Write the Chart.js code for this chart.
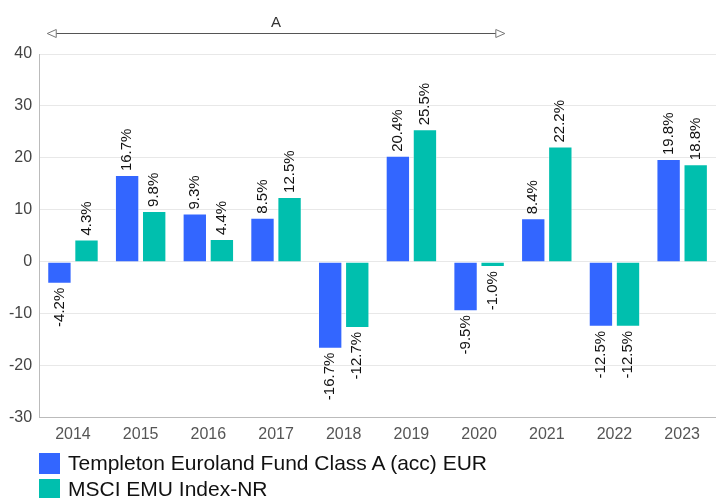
<!DOCTYPE html>
<html>
<head>
<meta charset="utf-8">
<script src="https://cdn.jsdelivr.net/npm/chart.js@4/dist/chart.umd.min.js"></script>
<style>
  html, body { margin: 0; padding: 0; background: #fff; }
  body { width: 716px; height: 498px; overflow: hidden; font-family: "Liberation Sans", Arial, sans-serif; }
  #wrap { position: relative; width: 716px; height: 451px; }
  #legend { position: absolute; left: 39px; top: 450px; }
  .item { display: flex; align-items: center; height: 26px; font-size: 21px; color: #111; }
  .box { width: 21px; height: 21px; margin-right: 8px; }
</style>
</head>
<body>
<div id="wrap"><canvas id="myChart"></canvas></div>
<div id="legend"></div>
<script>
const years = ['2014', '2015', '2016', '2017', '2018', '2019', '2020', '2021', '2022', '2023']
const fundValues = [-4.2, 16.7, 9.3, 8.5, -16.7, 20.4, -9.5, 8.4, -12.5, 19.8]
const indexValues = [4.3, 9.8, 4.4, 12.5, -12.7, 25.5, -1.0, 22.2, -12.5, 18.8]
const seriesNames = ['Templeton Euroland Fund Class A (acc) EUR', 'MSCI EMU Index-NR']
const seriesColors = ['#3366ff', '#00bfae']
const annotationLabel = 'A'
const annotationFrom = 0
const annotationTo = 6

const FONT = '"Liberation Sans", Arial, sans-serif'

// rotated value labels on each bar
const barLabels = {
  id: 'barLabels',
  afterDatasetsDraw(chart) {
    const ctx = chart.ctx
    ctx.save()
    ctx.font = '15px ' + FONT
    ctx.fillStyle = '#111'
    ctx.textBaseline = 'middle'
    chart.data.datasets.forEach((ds, i) => {
      chart.getDatasetMeta(i).data.forEach((bar, j) => {
        const v = ds.data[j]
        ctx.save()
        ctx.translate(bar.x, bar.y)
        ctx.rotate(-Math.PI / 2)
        if (v >= 0) {
          ctx.textAlign = 'left'
          ctx.fillText(v.toFixed(1) + '%', 4, 0)
        } else {
          ctx.textAlign = 'right'
          ctx.fillText(v.toFixed(1) + '%', -4, 0)
        }
        ctx.restore()
      })
    })
    ctx.restore()
  }
}

// period arrow on top
const periodArrow = {
  id: 'periodArrow',
  afterDraw(chart) {
    const ctx = chart.ctx
    const a = chart.getDatasetMeta(0).data[annotationFrom]
    const b = chart.getDatasetMeta(1).data[annotationTo]
    const x1 = a.x - a.width / 2
    const x2 = b.x + b.width / 2
    const y = 33
    ctx.save()
    ctx.strokeStyle = '#555'
    ctx.lineWidth = 1
    ctx.beginPath()
    ctx.moveTo(x1 + 8, y + 0.5)
    ctx.lineTo(x2 - 8, y + 0.5)
    ctx.stroke()
    ctx.strokeStyle = '#777'
    ctx.fillStyle = '#fff'
    ctx.beginPath()
    ctx.moveTo(x1, y + 0.5)
    ctx.lineTo(x1 + 9, y - 3.5)
    ctx.lineTo(x1 + 9, y + 4.5)
    ctx.closePath()
    ctx.fill()
    ctx.stroke()
    ctx.beginPath()
    ctx.moveTo(x2, y + 0.5)
    ctx.lineTo(x2 - 9, y - 3.5)
    ctx.lineTo(x2 - 9, y + 4.5)
    ctx.closePath()
    ctx.fill()
    ctx.stroke()
    ctx.fillStyle = '#333'
    ctx.font = '15px ' + FONT
    ctx.textAlign = 'center'
    ctx.textBaseline = 'middle'
    ctx.fillText(annotationLabel, (x1 + x2) / 2, y - 10)
    ctx.restore()
  }
}

const chartCanvas = document.getElementById('myChart')

new Chart(chartCanvas, {
  type: 'bar',
  data: {
    labels: years,
    datasets: [
      { label: seriesNames[0], data: fundValues, backgroundColor: seriesColors[0], borderColor: 'rgba(255,255,255,0.5)', borderWidth: 1 },
      { label: seriesNames[1], data: indexValues, backgroundColor: seriesColors[1], borderColor: 'rgba(255,255,255,0.5)', borderWidth: 1 }
    ]
  },
  options: {
    responsive: true,
    maintainAspectRatio: false,
    animation: false,
    layout: { padding: { top: 54, right: 0, left: 2, bottom: 0 } },
    plugins: {
      legend: { display: false },
      tooltip: { enabled: false }
    },
    scales: {
      x: {
        grid: { display: false, drawTicks: false },
        border: { display: true, color: '#bbb' },
        ticks: { color: '#555', font: { size: 16, family: FONT }, padding: 7 }
      },
      y: {
        min: -30,
        max: 40,
        ticks: { stepSize: 10, color: '#444', font: { size: 16, family: FONT }, padding: 7 },
        grid: { color: '#e8e8e8', drawTicks: false },
        border: { display: true, color: '#bbb' }
      }
    }
  },
  plugins: [barLabels, periodArrow]
})

const legendBox = document.getElementById('legend')
seriesNames.forEach((name, i) => {
  legendBox.innerHTML += `<div class="item"><span class="box" style="background:${seriesColors[i]}"></span>${name}</div>`
})
</script>
</body>
</html>
